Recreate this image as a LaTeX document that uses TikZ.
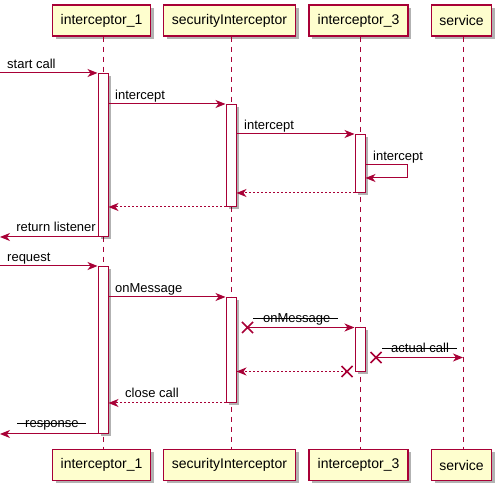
\documentclass[tikz,border=0pt]{standalone}
\usepackage{fontspec}
\setmainfont{Liberation Sans}
\usetikzlibrary{arrows.meta,shadows}
\definecolor{pu}{HTML}{A80036}
\definecolor{pfill}{HTML}{FEFECE}
\tikzset{
  shd/.style={drop shadow={shadow xshift=3pt,shadow yshift=-3pt,fill=black,opacity=0.3}},
  part/.style={draw=pu,fill=pfill,line width=1.2pt,inner sep=0pt,minimum height=31pt,
    font=\fontsize{14}{16}\selectfont,shd},
  actbar/.style={draw=pu,fill=white,line width=1pt,minimum width=10pt,inner sep=0pt,anchor=north,shd},
  life/.style={draw=pu,line width=0.9pt,dash pattern=on 5pt off 5pt},
  msg/.style={draw=pu,line width=1pt,-{Stealth[length=10pt,width=8pt,inset=3pt]}},
  ret/.style={msg,dash pattern=on 2pt off 2pt},
  lbl/.style={font=\fontsize{13}{15}\selectfont,inner sep=0pt,anchor=base west},
  lblr/.style={lbl,anchor=base east},
  strike/.style={draw=black,line width=1pt},
  xmark/.style={draw=pu,line width=1.6pt},
}
\begin{document}
\begin{tikzpicture}[x=1pt,y=-1pt]
\useasboundingbox (0,0) rectangle (504,494);
% lifeline x positions
\coordinate (L1) at (103,0);
\coordinate (L2) at (231,0);
\coordinate (L3) at (360,0);
\coordinate (L4) at (463,0);
\coordinate (edge) at (0,0);
% participants
\node[part,minimum width=98pt] (p1t) at (101.5,20.5) {interceptor\_1};
\node[part,minimum width=132pt] (p2t) at (229.5,20.5) {securityInterceptor};
\node[part,minimum width=99pt] (p3t) at (358.5,20.5) {interceptor\_3};
\node[part,minimum width=60pt] (p4t) at (461.5,20.5) {service};
\node[part,minimum width=98pt] (p1b) at (101.5,465) {interceptor\_1};
\node[part,minimum width=132pt] (p2b) at (229.5,465) {securityInterceptor};
\node[part,minimum width=99pt] (p3b) at (358.5,465) {interceptor\_3};
\node[part,minimum width=60pt] (p4b) at (461.5,465) {service};
% lifelines
\draw[life] (L1 |- p1t.south) -- (L1 |- p1b.north);
\draw[life] (L2 |- p2t.south) -- (L2 |- p2b.north);
\draw[life] (L3 |- p3t.south) -- (L3 |- p3b.north);
\draw[life] (L4 |- p4t.south) -- (L4 |- p4b.north);
% activation bars
\node[actbar,minimum height=163pt] (a1) at (103,73) {};
\node[actbar,minimum height=102pt] (s1) at (231,104) {};
\node[actbar,minimum height=58pt] (c1) at (360,134) {};
\node[actbar,minimum height=167pt] (a2) at (103,266) {};
\node[actbar,minimum height=105pt] (s2) at (231,297) {};
\node[actbar,minimum height=44pt] (c2) at (360,327) {};
% first call
\draw[msg] (edge |- 0,73) -- (a1.west |- 0,73);
\node[lbl] (t1) at (7,68.5) {start call};
\draw[msg] (a1.east |- 0,104) -- (s1.west |- 0,104);
\node[lbl] (t2) at (115,99.5) {intercept};
\draw[msg] (s1.east |- 0,134) -- (c1.west |- 0,134);
\node[lbl] (t3) at (244,129.5) {intercept};
\draw[msg] (c1.east |- 0,165) -- ++(42,0) -- ++(0,13) -- (c1.east |- 0,178);
\node[lbl] (t4) at (373,160.5) {intercept};
\draw[ret] (c1.west |- c1.south) -- (s1.east |- c1.south);
\draw[ret] (s1.west |- s1.south) -- (a1.east |- s1.south);
\draw[msg] (a1.west |- a1.south) -- (edge |- a1.south);
\node[lblr] (t5) at (96,231.5) {return listener};
% second call
\draw[msg] (edge |- 0,266) -- (a2.west |- 0,266);
\node[lbl] (t6) at (7,261.5) {request};
\draw[msg] (a2.east |- 0,297) -- (s2.west |- 0,297);
\node[lbl] (t7) at (115,292.5) {onMessage};
% lost onMessage
\coordinate (x1) at (247.5,327.5);
\draw[xmark] (x1) +(-5.5,-5.5) -- +(5.5,5.5) (x1) +(-5.5,5.5) -- +(5.5,-5.5);
\draw[msg] (x1) -- (c2.west |- x1);
\node[lbl] (t8) at (263,322.5) {onMessage};
\draw[strike] ([xshift=-10pt,yshift=3.5pt]t8.base west) -- ([xshift=7pt,yshift=3.5pt]t8.base east);
% lost actual call
\coordinate (x2) at (376,357.5);
\draw[xmark] (x2) +(-5.5,-5.5) -- +(5.5,5.5) (x2) +(-5.5,5.5) -- +(5.5,-5.5);
\draw[msg] (x2) -- (L4 |- x2);
\node[lbl] (t9) at (391,352.5) {actual call};
\draw[strike] ([xshift=-9pt,yshift=3.5pt]t9.base west) -- ([xshift=8pt,yshift=3.5pt]t9.base east);
% lost return
\coordinate (x3) at (347,371.5);
\draw[xmark] (x3) +(-5.5,-5.5) -- +(5.5,5.5) (x3) +(-5.5,5.5) -- +(5.5,-5.5);
\draw[ret] (x3) -- (s2.east |- x3);
% close call
\draw[ret] (s2.west |- s2.south) -- (a2.east |- s2.south);
\node[lbl] (t10) at (125,397.5) {close call};
% response
\draw[msg] (a2.west |- a2.south) -- (edge |- a2.south);
\node[lbl] (t11) at (25,427.5) {response};
\draw[strike] ([xshift=-8pt,yshift=3.5pt]t11.base west) -- ([xshift=7pt,yshift=3.5pt]t11.base east);
\end{tikzpicture}
\end{document}
